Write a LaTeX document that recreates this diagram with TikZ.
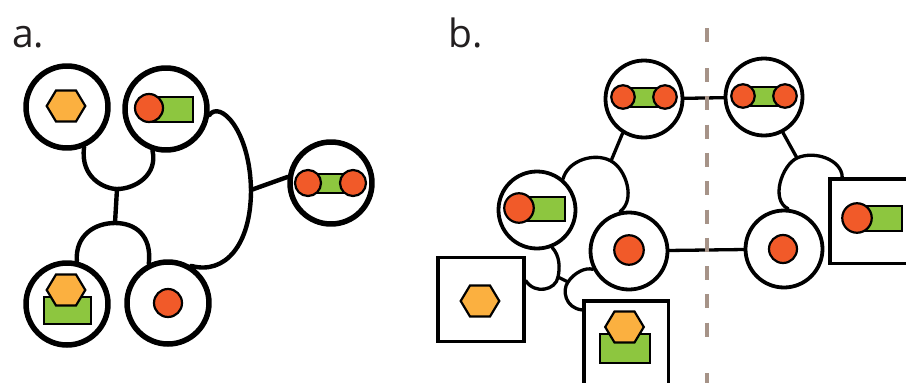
\documentclass[tikz,border=0pt]{standalone}
\usepackage{fontspec}
\newfontfamily\labelfont{Open Sans}
\usepackage{tikz}
\definecolor{dotred}{HTML}{F15A29}
\definecolor{bargreen}{HTML}{8DC63F}
\definecolor{hexamber}{HTML}{FBB040}
\definecolor{splitgray}{HTML}{A69388}
\definecolor{labelink}{HTML}{231F20}
\tikzset{
every picture/.style={line cap=round,line join=round},
cell big/.style={circle, draw, line width=5.5pt, minimum size=82pt, inner sep=0pt},
cell small/.style={circle, draw, line width=3.8pt, minimum size=77pt, inner sep=0pt},
cage box/.style={rectangle, draw, line width=3.6pt, inner sep=0pt, line join=miter},
red dot/.style={circle, draw, fill=dotred, line width=2.2pt, inner sep=0pt},
green bar/.style={rectangle, draw, fill=bargreen, line width=2.2pt, inner sep=0pt, line join=miter},
amber hex/.pic={
  \draw[fill=hexamber, line width=2.2pt, line join=miter]
    (-19.3,0) -- (-10,-15.5) -- (10,-15.5) -- (19.3,0) -- (10,15.5) -- (-10,15.5) -- cycle;
},
link thick/.style={draw, line width=4.4pt},
link thin/.style={draw, line width=3.3pt},
split line/.style={draw=splitgray, line width=3.6pt, line cap=butt, dash pattern=on 14pt off 14.3pt},
panel label/.style={font=\labelfont\fontsize{39}{39}\selectfont, text=labelink, inner sep=0pt, anchor=base west}
}
\begin{document}
\begin{tikzpicture}[x=1pt,y=-1pt]
\useasboundingbox (0,0) rectangle (906,383);
\clip (0,0) rectangle (906,383);
% panel a
\node[panel label] (lbla) at (12,47) {a.};
\node[cell big] (a1) at (67,107) {};
\node[cell big] (a2) at (166,109) {};
\node[cell big] (a3) at (331,183) {};
\node[cell big] (a4) at (67,304) {};
\node[cell big] (a5) at (168,303) {};
\pic (a1hex) at (66,106) {amber hex};
\node[green bar, minimum width=44pt, minimum height=25pt] (a2bar) at (171,109.5) {};
\node[red dot, minimum size=28pt] (a2dot) at (149,108) {};
\node[green bar, minimum width=45pt, minimum height=19pt] (a3bar) at (330.5,183.5) {};
\node[red dot, minimum size=26pt] (a3dotl) at (308,183) {};
\node[red dot, minimum size=26pt] (a3dotr) at (353,183) {};
\node[green bar, minimum width=47pt, minimum height=27pt] (a4bar) at (67.5,310.5) {};
\pic (a4hex) at (66,290) {amber hex};
\node[red dot, minimum size=28pt] (a5dot) at (168,303) {};
\coordinate (ja1) at (117,189);
\coordinate (ja2) at (115,223);
\coordinate (ja3) at (251,190);
\draw[link thick] (a1.-67) .. controls (80,178) and (105,189) .. (ja1)
  .. controls (135,189) and (158,175) .. (a2.-108);
\draw[link thick] (ja1) -- (ja2);
\draw[link thick] (a4.77) .. controls (75,235) and (95,223) .. (ja2)
  .. controls (135,223) and (152,235) .. (a5.116);
\draw[link thick] (a2.-8) .. controls (220,100) and (250,130) .. (ja3)
  .. controls (251,245) and (225,275) .. (a5.58);
\draw[link thick] (ja3) -- (a3.172);
% panel b
\node[panel label] (lblb) at (448,47) {b.};
\node[cell small] (tl) at (644,99) {};
\node[cell small] (tr) at (764,97) {};
\node[cell small] (ml) at (537,210) {};
\node[cell small] (cl) at (629,251) {};
\node[cell small] (rl) at (784,249) {};
\node[cage box, minimum width=86pt, minimum height=84pt] (bl) at (481,299.5) {};
\node[cage box, minimum width=84.6pt, minimum height=119.3pt] (bm) at (626,360.35) {};
\node[cage box, minimum width=100pt, minimum height=84.5pt] (rb) at (880,221.25) {};
\node[green bar, minimum width=42pt, minimum height=19pt] (tlbar) at (644,97.5) {};
\node[red dot, minimum size=23.5pt] (tldotl) at (623,97) {};
\node[red dot, minimum size=23.5pt] (tldotr) at (665,97) {};
\node[green bar, minimum width=42pt, minimum height=19pt] (trbar) at (764,96.5) {};
\node[red dot, minimum size=23.5pt] (trdotl) at (743,96) {};
\node[red dot, minimum size=23.5pt] (trdotr) at (785,96) {};
\node[green bar, minimum width=46pt, minimum height=24pt] (mlbar) at (542,209) {};
\node[red dot, minimum size=29.5pt] (mldot) at (519,208) {};
\node[red dot, minimum size=29.5pt] (cldot) at (629,250) {};
\node[red dot, minimum size=28pt] (rldot) at (783,249) {};
\pic (blhex) at (480,301) {amber hex};
\node[green bar, minimum width=50pt, minimum height=29pt] (bmbar) at (625,348.5) {};
\pic (bmhex) at (624.5,327) {amber hex};
\node[green bar, minimum width=45pt, minimum height=25pt] (rbbar) at (879.5,218.5) {};
\node[red dot, minimum size=29.5pt] (rbdot) at (857,218) {};
\coordinate (jb1) at (611,161);
\coordinate (jb2) at (797,158);
\coordinate (jb3) at (558,277);
\coordinate (jb4) at (568,282);
\draw[link thin] (tl) -- (tr);
\draw[link thin] (cl) -- (rl);
\draw[link thin] (tl.-122) -- (jb1);
\draw[link thin] (ml.50) .. controls (568,160) and (595,152) .. (jb1)
  .. controls (626,169) and (636,200) .. (cl.103);
\draw[link thin] (tr.-62) -- (jb2);
\draw[link thin] ([xshift=14pt]rb.north west) .. controls (842,160) and (815,150) .. (jb2)
  .. controls (782,165) and (770,200) .. (rl.84);
\draw[link thin] (ml.-68) .. controls (560,256) and (560,268) .. (jb3)
  .. controls (556,290) and (535,295) .. ([yshift=-25pt]bl.north east);
\draw[link thin] (cl.207) .. controls (585,267) and (574,273) .. (jb4)
  .. controls (562,290) and (565,308) .. ([yshift=-11pt]bm.north west);
\draw[link thin] (jb3) -- (jb4);
\draw[split line] (707,28) -- (707,46);
\draw[split line] (707,68) -- (707,340);
\draw[split line] (707,373) -- (707,390);
\end{tikzpicture}
\end{document}
